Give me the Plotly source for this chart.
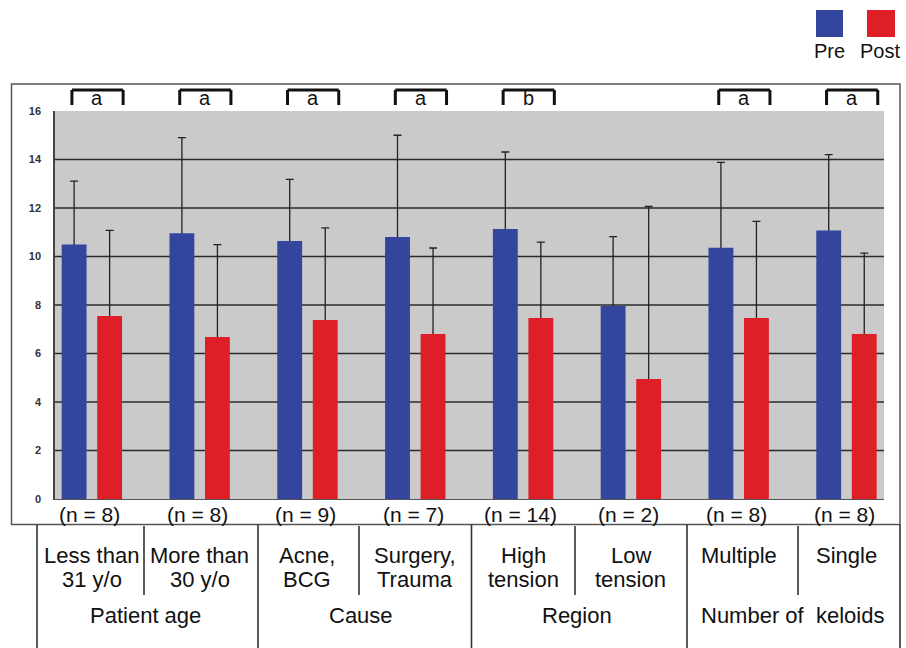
import plotly.graph_objects as go

# ---------------- data ----------------
label_line1 = ["Less than", "More than", "Acne,", "Surgery,", "High", "Low", "Multiple", "Single"]
label_line2 = ["31 y/o", "30 y/o", "BCG", "Trauma", "tension", "tension", "", ""]
group_names = ["Patient age", "Cause", "Region", "Number of\u00a0 keloids"]
n_labels = ["(n = 8)", "(n = 8)", "(n = 9)", "(n = 7)", "(n = 14)", "(n = 2)", "(n = 8)", "(n = 8)"]
sig_letters = ["a", "a", "a", "a", "b", "", "a", "a"]

pre_values = [10.50, 10.96, 10.64, 10.80, 11.13, 7.96, 10.36, 11.07]
pre_sd = [2.61, 3.94, 2.54, 4.20, 3.18, 2.86, 3.52, 3.13]
post_values = [7.55, 6.68, 7.38, 6.80, 7.46, 4.95, 7.46, 6.80]
post_sd = [3.53, 3.81, 3.80, 3.55, 3.13, 7.12, 3.99, 3.34]

y_ticks = [0, 2, 4, 6, 8, 10, 12, 14, 16]

PRE_COLOR = "#33459c"
POST_COLOR = "#de1f27"

# ---------------- geometry helpers (layout only) ----------------
W, H = 906, 648
ML, MR, MT, MB = 55, 22, 111, 149
PW = W - ML - MR
PH = H - MT - MB


def px_x(px):
    return (px - ML) / PW


def px_y(py):
    return (H - MB - py) / PH


x_idx = list(range(len(pre_values)))
HIDE = 0.06  # hides the lower error-bar end just under the bar top

fig = go.Figure()
# one-sided error bars (drawn first, so the coloured bars cover the lower ends)
for vals, sd, grp in [(pre_values, pre_sd, "pre"), (post_values, post_sd, "post")]:
    fig.add_trace(go.Bar(
        x=x_idx, y=[v - HIDE for v in vals], offsetgroup=grp, hoverinfo="skip",
        marker=dict(color="rgba(0,0,0,0)", line=dict(width=0)),
        error_y=dict(type="data", array=[s + HIDE for s in sd], arrayminus=[0] * len(sd),
                     symmetric=False, color="#222222", thickness=1.3, width=4),
    ))
# coloured bars
fig.add_trace(go.Bar(x=x_idx, y=pre_values, name="Pre", offsetgroup="pre",
                     marker=dict(color=PRE_COLOR, line=dict(width=0))))
fig.add_trace(go.Bar(x=x_idx, y=post_values, name="Post", offsetgroup="post",
                     marker=dict(color=POST_COLOR, line=dict(width=0))))

shapes = []
annotations = []

# horizontal grid lines (none at the very top)
for v in y_ticks:
    if 0 < v < max(y_ticks):
        shapes.append(dict(type="line", xref="paper", x0=0, x1=1, yref="y", y0=v, y1=v,
                           line=dict(color="#2b2b2b", width=1.5), layer="below"))

# outer box around chart area
shapes.append(dict(type="rect", xref="paper", yref="paper",
                   x0=px_x(11.5), x1=px_x(900), y0=px_y(524.5), y1=px_y(84),
                   line=dict(color="#555555", width=1.5), fillcolor="rgba(0,0,0,0)", layer="below"))

# table lines below
full_lines = [37, 258, 471.5, 687, 900]
part_lines = [144, 359, 575, 798]
for xp in full_lines:
    shapes.append(dict(type="line", xref="paper", yref="paper", x0=px_x(xp), x1=px_x(xp),
                       y0=px_y(524.5), y1=px_y(649), line=dict(color="#333333", width=1.6)))
for xp in part_lines:
    shapes.append(dict(type="line", xref="paper", yref="paper", x0=px_x(xp), x1=px_x(xp),
                       y0=px_y(526), y1=px_y(595), line=dict(color="#333333", width=1.6)))

# significance brackets
yb_top, yb_bot = px_y(90), px_y(105)
for i, letter in enumerate(sig_letters):
    if not letter:
        continue
    xl, xr = i - 0.185, i + 0.29
    bl = dict(color="#111111", width=3)
    shapes.append(dict(type="line", xref="x", yref="paper", x0=xl, x1=xr, y0=yb_top, y1=yb_top, line=bl))
    shapes.append(dict(type="line", xref="x", yref="paper", x0=xl, x1=xl, y0=yb_top, y1=yb_bot, line=bl))
    shapes.append(dict(type="line", xref="x", yref="paper", x0=xr, x1=xr, y0=yb_top, y1=yb_bot, line=bl))
    annotations.append(dict(text=letter, x=i + 0.05, y=px_y(98), xref="x", yref="paper",
                            showarrow=False, xanchor="center", yanchor="middle",
                            font=dict(size=20, color="#111111")))

TXT = dict(family="Liberation Sans, Arial, sans-serif", color="#111111")

# n labels
for i, t in enumerate(n_labels):
    annotations.append(dict(text=t, x=i - 0.02, y=px_y(514), xref="x", yref="paper",
                            showarrow=False, xanchor="center", yanchor="middle",
                            font=dict(size=21, **TXT)))

# sub labels
for i, (a, b) in enumerate(zip(label_line1, label_line2)):
    annotations.append(dict(text=a, x=i, y=px_y(555), xref="x", yref="paper",
                            showarrow=False, xanchor="center", yanchor="middle",
                            font=dict(size=22, **TXT)))
    if b:
        annotations.append(dict(text=b, x=i, y=px_y(579), xref="x", yref="paper",
                                showarrow=False, xanchor="center", yanchor="middle",
                                font=dict(size=22, **TXT)))

# group labels
for g, name in enumerate(group_names):
    annotations.append(dict(text=name, x=2 * g + 0.5, y=px_y(615), xref="x", yref="paper",
                            showarrow=False, xanchor="center", yanchor="middle",
                            font=dict(size=22, **TXT)))

# custom legend
for (x0, x1, col, name, cx) in [(816, 843, PRE_COLOR, "Pre", 829), (867, 895, POST_COLOR, "Post", 880)]:
    shapes.append(dict(type="rect", xref="paper", yref="paper", x0=px_x(x0), x1=px_x(x1),
                       y0=px_y(37), y1=px_y(10), fillcolor=col, line=dict(width=0)))
    annotations.append(dict(text=name, x=px_x(cx), y=px_y(51), xref="paper", yref="paper",
                            showarrow=False, xanchor="center", yanchor="middle",
                            font=dict(size=20, **TXT)))

fig.update_layout(
    width=W, height=H,
    margin=dict(l=ML, r=MR, t=MT, b=MB),
    paper_bgcolor="white",
    plot_bgcolor="#cacaca",
    barmode="group",
    bargap=0.341,
    bargroupgap=0.30,
    showlegend=False,
    hovermode=False,
    shapes=shapes,
    annotations=annotations,
    font=dict(family="Liberation Sans, Arial, sans-serif"),
)
fig.update_xaxes(range=[-0.342, 7.348], showticklabels=False, showgrid=False, zeroline=False,
                 showline=True, linecolor="#555555", linewidth=1.2, ticks="")
fig.update_yaxes(range=[0, 16], tickvals=y_ticks, showgrid=False, zeroline=False,
                 showline=True, linecolor="#444444", linewidth=1.5, ticks="",
                 ticklabelstandoff=10,
                 tickfont=dict(size=11, color="#333333", weight="bold",
                               family="Liberation Sans, Arial, sans-serif"))

fig.write_html("out.html", config={"displayModeBar": False},
               post_script="document.body.style.margin='0px';document.body.style.overflow='hidden';")
